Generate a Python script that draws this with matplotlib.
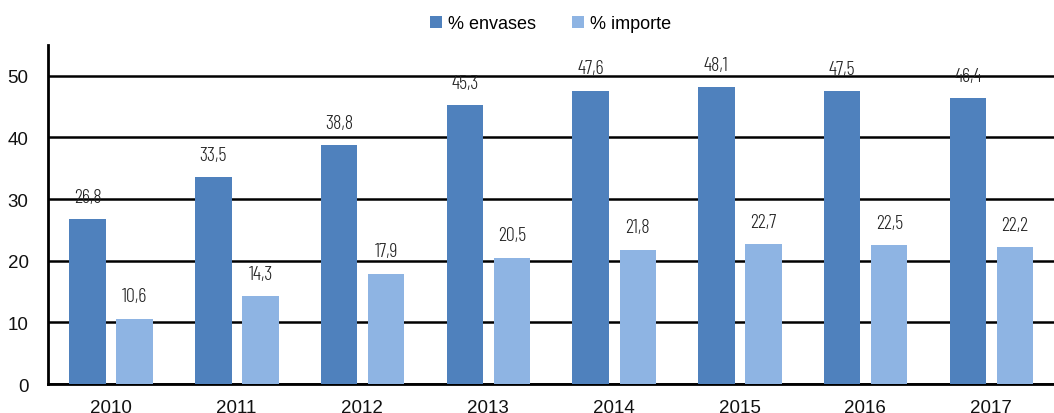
import matplotlib.pyplot as plt
import numpy as np

years = ['2010', '2011', '2012', '2013', '2014', '2015', '2016', '2017']
envases = [26.8, 33.5, 38.8, 45.3, 47.6, 48.1, 47.5, 46.4]
importe = [10.6, 14.3, 17.9, 20.5, 21.8, 22.7, 22.5, 22.2]

plt.rcParams['font.family'] = ['Liberation Sans', 'DejaVu Sans']

fig = plt.figure(figsize=(10.54, 4.14), dpi=100)
ax = fig.add_axes([0.0455, 0.07, 0.9545, 0.819])

x = np.arange(len(years))
w = 0.29
b1 = ax.bar(x - 0.185, envases, w, color='#4F81BD', label='% envases', zorder=3)
b2 = ax.bar(x + 0.19, importe, w, color='#8EB4E3', label='% importe', zorder=3)

lab_font = dict(family=['Barlow Condensed', 'DejaVu Sans'], fontweight=300,
                fontsize=14.5, color='#222222')
for bars, vals in ((b1, envases), (b2, importe)):
    for r, v in zip(bars, vals):
        ax.annotate(f'{v:.1f}'.replace('.', ','), (r.get_x() + r.get_width() / 2, v),
                    xytext=(0, 16), textcoords='offset points', ha='center', va='center', **lab_font)

ax.set_xlim(-0.5, 7.5)
ax.set_ylim(0, 55)
ax.set_yticks([0, 10, 20, 30, 40, 50])
ax.set_xticks(x)
ax.set_xticklabels(years)
ax.tick_params(length=0, labelsize=13.5, colors='#111111')
ax.tick_params(axis='x', pad=11)
ax.tick_params(axis='y', pad=14)
ax.yaxis.grid(True, color='black', linewidth=1.8, zorder=0)
ax.set_axisbelow(True)
for s in ['top', 'right']:
    ax.spines[s].set_visible(False)
ax.spines['left'].set_linewidth(2)
ax.spines['bottom'].set_linewidth(2)

fig.legend(loc='upper center', bbox_to_anchor=(0.522, 1.0), ncol=2, frameon=False,
           fontsize=13, handlelength=0.7, handleheight=0.7, handletextpad=0.3, columnspacing=2)

fig.savefig('out.png', dpi=100)
